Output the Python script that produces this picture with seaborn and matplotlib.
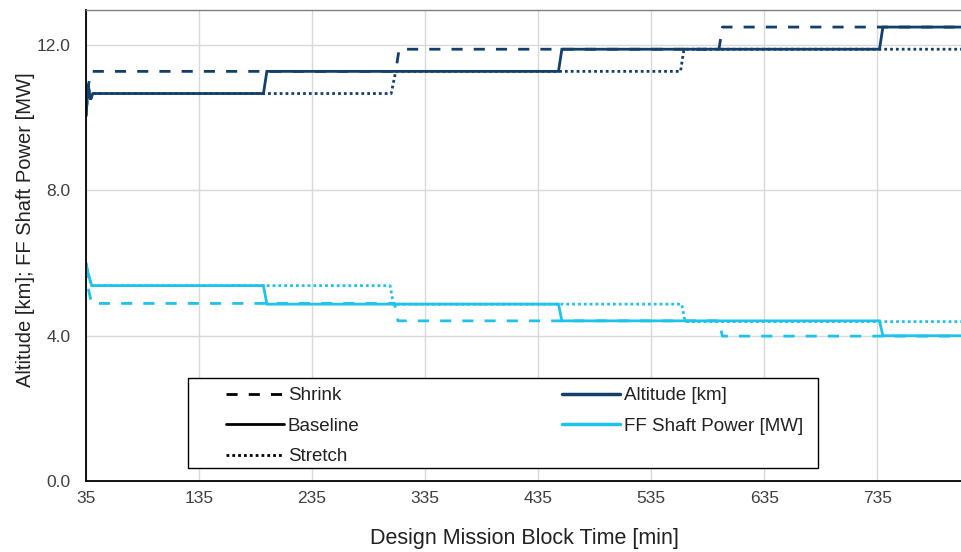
import matplotlib
matplotlib.use("Agg")
import matplotlib.pyplot as plt
from matplotlib.lines import Line2D
from matplotlib.patches import Rectangle
import seaborn as sns
import pandas as pd

# ---- data ----
t_alt_baseline = [35, 37, 39, 41, 192, 195, 453, 456, 737, 740, 830]
alt_baseline = [10.05, 10.9, 10.5, 10.67, 10.67, 11.28, 11.28, 11.89, 11.89, 12.50, 12.50]
t_alt_shrink = [35, 37, 40, 309, 312, 595, 598, 830]
alt_shrink = [10.1, 10.9, 11.28, 11.28, 11.89, 11.89, 12.50, 12.50]
t_alt_stretch = [35, 37, 39, 41, 305, 309, 561, 564, 830]
alt_stretch = [10.05, 10.9, 10.5, 10.67, 10.67, 11.28, 11.28, 11.89, 11.89]

t_pow_baseline = [35, 37, 40, 192, 195, 453, 456, 737, 740, 830]
pow_baseline = [6.0, 5.7, 5.38, 5.38, 4.87, 4.87, 4.41, 4.41, 4.0, 4.0]
t_pow_shrink = [35, 37, 40, 308, 311, 595, 598, 830]
pow_shrink = [5.9, 5.3, 4.89, 4.89, 4.41, 4.41, 3.99, 3.99]
t_pow_stretch = [35, 37, 40, 304, 307, 562, 565, 830]
pow_stretch = [6.0, 5.7, 5.38, 5.38, 4.87, 4.87, 4.39, 4.39]

x_ticks = [35, 135, 235, 335, 435, 535, 635, 735]
y_ticks = [0.0, 4.0, 8.0, 12.0]
configs = ["Shrink", "Baseline", "Stretch"]
quantities = ["Altitude [km]", "FF Shaft Power [MW]"]

# ---- styling ----
sns.set_theme(style="white")
plt.rcParams["font.family"] = ["Liberation Sans", "DejaVu Sans"]

c_alt = "#123F6B"
c_pow = "#1DC3EC"
styles = {"Shrink": (0, (4, 4)), "Baseline": "-", "Stretch": (0, (1, 1.1))}
colors = {"Altitude [km]": c_alt, "FF Shaft Power [MW]": c_pow}

series = [
    ("Shrink", "Altitude [km]", t_alt_shrink, alt_shrink),
    ("Baseline", "Altitude [km]", t_alt_baseline, alt_baseline),
    ("Stretch", "Altitude [km]", t_alt_stretch, alt_stretch),
    ("Shrink", "FF Shaft Power [MW]", t_pow_shrink, pow_shrink),
    ("Baseline", "FF Shaft Power [MW]", t_pow_baseline, pow_baseline),
    ("Stretch", "FF Shaft Power [MW]", t_pow_stretch, pow_stretch),
]
frames = []
for cfg, q, t, v in series:
    frames.append(pd.DataFrame({"time": t, "value": v, "config": cfg, "quantity": q}))
df = pd.concat(frames, ignore_index=True)

W, H = 962, 552
AX_L, AX_B, AX_T = 86, 481, 10
fig = plt.figure(figsize=(W / 100, H / 100), dpi=100)
ax = fig.add_axes([AX_L / W, (H - AX_B) / H, 1 - AX_L / W, (AX_B - AX_T) / H])
aw, ah = W - AX_L, AX_B - AX_T

for (cfg, q), sub in df.groupby(["config", "quantity"], sort=False):
    sns.lineplot(data=sub, x="time", y="value", ax=ax, estimator=None, sort=False,
                 color=colors[q], linewidth=2.0, legend=False)
    ax.lines[-1].set_linestyle(styles[cfg])
    ax.lines[-1].set_solid_joinstyle("miter")

ax.set_xlim(35, 810)
ax.set_ylim(0, 12.97)
ax.set_xticks(x_ticks)
ax.set_xticklabels([str(v) for v in x_ticks])
ax.set_yticks(y_ticks)
ax.set_yticklabels([f"{v:.1f}" for v in y_ticks])
ax.tick_params(axis="both", length=0, labelsize=12.5, colors="#404040")
ax.tick_params(axis="x", pad=7)
ax.tick_params(axis="y", pad=11)
ax.grid(True, color="#D9D9D9", linewidth=1.0)
ax.set_axisbelow(True)

ax.spines["left"].set_color("black")
ax.spines["left"].set_linewidth(1.3)
ax.spines["bottom"].set_color("black")
ax.spines["bottom"].set_linewidth(1.3)
ax.spines["top"].set_color("#808080")
ax.spines["top"].set_linewidth(1.0)
ax.spines["right"].set_visible(False)

ax.set_xlabel("Design Mission Block Time [min]", fontsize=15.5, color="#222222")
ax.xaxis.set_label_coords(0.5, -(528 - AX_B) / ah)
ax.set_ylabel("Altitude [km]; FF Shaft Power [MW]", fontsize=14.5, color="#222222")
ax.yaxis.set_label_coords(-(AX_L - 35) / aw, (AX_B - 230) / ah)

# legend box
box_l, box_r, box_t, box_b = 188, 818, 378, 468
ax.add_patch(Rectangle(((box_l - AX_L) / aw, (AX_B - box_b) / ah),
                       (box_r - box_l) / aw, (box_b - box_t) / ah,
                       transform=ax.transAxes, facecolor="white", edgecolor="black",
                       linewidth=1.0, zorder=4, clip_on=False))

handles = [Line2D([], [], color="black", lw=2.0, ls=styles[c]) for c in configs]
handles += [Line2D([], [], color=colors[q], lw=2.5) for q in quantities]
labels = configs + quantities
leg = ax.legend(handles, labels, ncol=2, loc="upper left",
                bbox_to_anchor=((226 - AX_L) / aw, (AX_B - 387) / ah),
                frameon=False, fontsize=13.5, handlelength=3.1, handletextpad=0.2,
                borderaxespad=0, borderpad=0, labelspacing=0.72, columnspacing=10.8)
leg.set_zorder(5)
for txt in leg.get_texts():
    txt.set_color("#222222")

fig.savefig("out.png", dpi=100)
